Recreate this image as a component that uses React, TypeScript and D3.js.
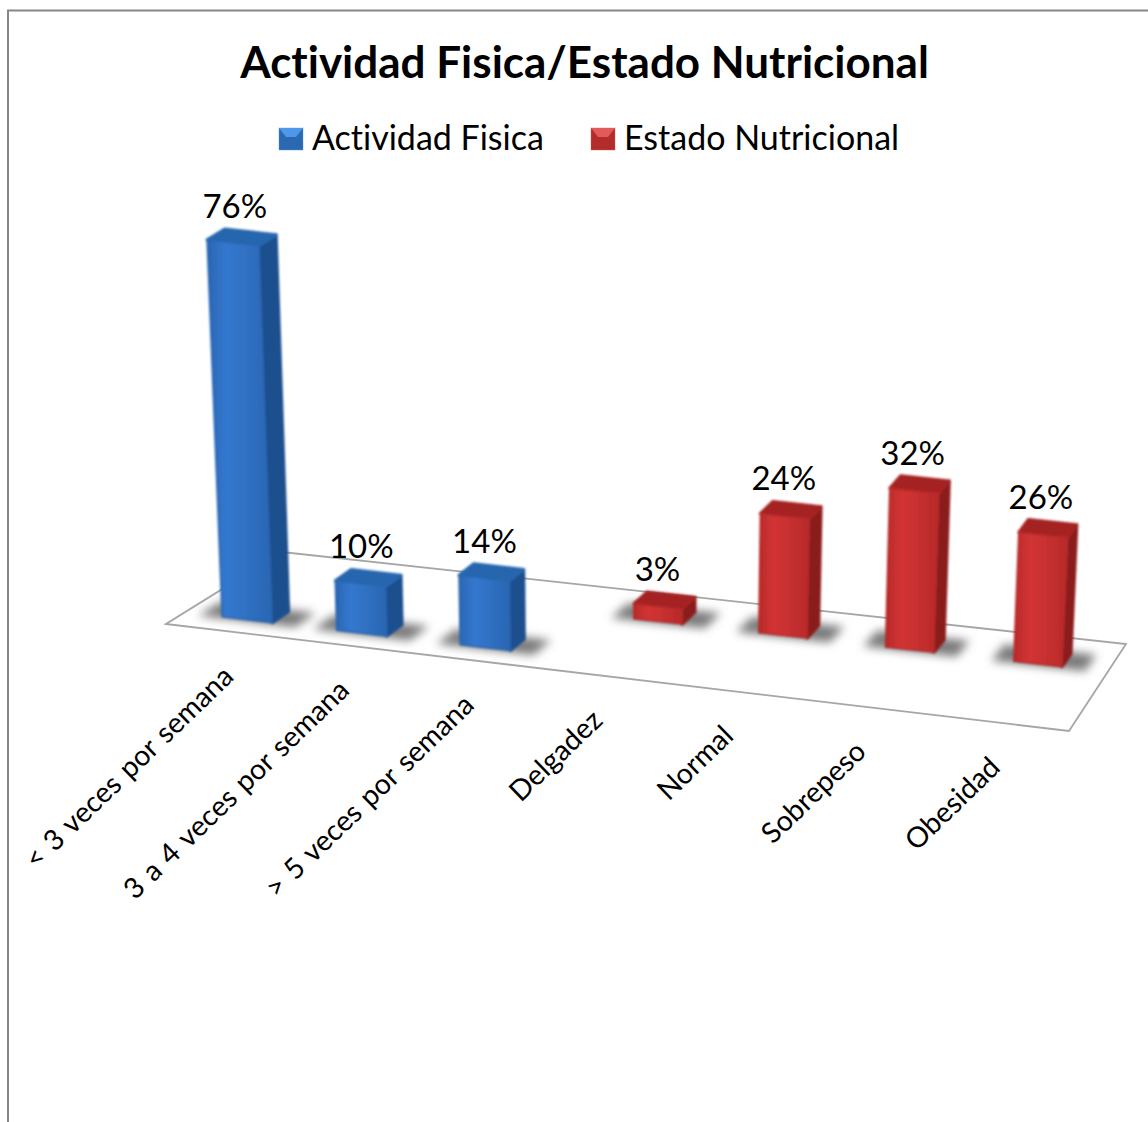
import React from "react";
import * as d3 from "d3";

const titleText = "Actividad Fisica/Estado Nutricional";
const seriesNames = ["Actividad Fisica", "Estado Nutricional"];
const categories = ["< 3 veces por semana", "3 a 4 veces por semana", "> 5 veces por semana", "Delgadez", "Normal", "Sobrepeso", "Obesidad"];
const actividadFisica = [76, 10, 14, null, null, null, null];
const estadoNutricional = [null, null, null, 3, 24, 32, 26];

const FONT = "Lato, 'Open Sans', sans-serif";
const W = 1148, H = 1122;
const corners = { fl: [166, 624], fr: [1069, 731], bl: [282, 552], br: [1126, 644] };

const floor = (u: number, v: number): [number, number] => {
  const lx = corners.fl[0] + (corners.bl[0] - corners.fl[0]) * v;
  const ly = corners.fl[1] + (corners.bl[1] - corners.fl[1]) * v;
  const rx = corners.fr[0] + (corners.br[0] - corners.fr[0]) * v;
  const ry = corners.fr[1] + (corners.br[1] - corners.fr[1]) * v;
  return [lx + (rx - lx) * u, ly + (ry - ly) * u];
};
const lift = (p: [number, number], h: number): [number, number] => [p[0] + (p[0] - 620) * 0.0001 * h, p[1] - h];

const uScale = d3.scalePow().exponent(1.055).domain([0, 6]).range([0.042, 0.891]);
const rowScale = d3.scalePoint().domain(seriesNames).range([0.16, 0.68]);
const hScale = d3.scaleLinear().domain([0, 76]).range([0, 377]);
const barU = 0.056;
const barV = 0.15;
const poly = (pts: [number, number][]) => d3.line()(pts) + "Z";

const palette = [
  { id: "blue", front0: "#3478cf", front1: "#2a66b2", side: "#1f4f8e", top: "#2866ae", hi: "#4f97e8", lo: "#2b68b2" },
  { id: "red", front0: "#d23434", front1: "#b82a2a", side: "#8a1e1e", top: "#a52424", hi: "#e25a5a", lo: "#b32c2c" },
];

const bars = [actividadFisica, estadoNutricional].flatMap((vals, s) =>
  vals.flatMap((value, i) => (value == null ? [] : [{ s, i, value, v0: rowScale(seriesNames[s]) as number }]))
);

function Bar({ s, i, value, v0 }: any) {
  const u0 = uScale(i), u1 = u0 + barU, v1 = v0 + barV, h = hScale(value);
  const a = floor(u0, v0), b = floor(u1, v0), c = floor(u1, v1), d = floor(u0, v1);
  const [ta, tb, tc, td] = [a, b, c, d].map((p) => lift(p, h));
  const col = palette[s];
  return (
    <g strokeLinejoin="round" strokeWidth={3}>
      <path d={poly([b, c, tc, tb])} fill={col.side} stroke={col.side} />
      <path d={poly([ta, tb, tc, td])} fill={col.top} stroke={col.top} />
      <path d={poly([a, b, tb, ta])} fill={`url(#front-${col.id})`} stroke={col.front1} strokeWidth={1.5} />
    </g>
  );
}

function Shadow({ i, v0 }: any) {
  const u0 = uScale(i) - 0.024, u1 = uScale(i) + barU + 0.028;
  const v1 = v0 + barV + 0.02;
  return <path d={poly([floor(u0, v0 - 0.02), floor(u1, v0 - 0.02), floor(u1, v1), floor(u0, v1)])} fill="#7a7a7a" />;
}

export default function App() {
  const floorPts: [number, number][] = [floor(0, 0), floor(1, 0), floor(1, 1), floor(0, 1)];
  return (
    <svg width={W} height={H} viewBox={`0 0 ${W} ${H}`} style={{ position: "fixed", left: 0, top: 0, background: "#fff", fontVariantLigatures: "none" }} fontFamily={FONT}>
      <defs>
        {palette.map((c) => (
          <linearGradient key={c.id} id={`front-${c.id}`} x1="0" x2="1" y1="0" y2="0">
            <stop offset="0" stopColor={c.front1} />
            <stop offset="0.3" stopColor={c.front0} />
            <stop offset="1" stopColor={c.front1} />
          </linearGradient>
        ))}
        <filter id="soft" x="-20%" y="-20%" width="140%" height="140%"><feGaussianBlur stdDeviation="0.8" /></filter>
        <filter id="shadow" x="-40%" y="-60%" width="180%" height="220%"><feGaussianBlur stdDeviation="5" /></filter>
      </defs>

      <path d={`M8,${H}V10.5H${W}`} fill="none" stroke="#868686" strokeWidth={2} />

      <text x={584.5} y={78} textAnchor="middle" fontSize={44} fontWeight={700} fill="#000">{titleText}</text>

      <g>
        {seriesNames.map((name, s) => {
          const x = s === 0 ? 279 : 591;
          const col = palette[s];
          return (
            <g key={name}>
              <rect x={x} y={128} width={24} height={22} fill={col.lo} stroke={col.hi} strokeOpacity={0.4} />
              <path d={poly([[x, 128], [x + 24, 128], [x + 17, 137], [x + 7, 137]])} fill={col.hi} />
              <text x={x + 33} y={150} fontSize={34} fill="#000">{name}</text>
            </g>
          );
        })}
      </g>

      <path d={poly(floorPts)} fill="#fff" stroke="#a6a6a6" strokeWidth={1.8} />

      <g filter="url(#shadow)">{bars.map((b) => <Shadow key={b.i} {...b} />)}</g>
      <g filter="url(#soft)">{bars.map((b) => <Bar key={b.i} {...b} />)}</g>

      <g fontSize={33} textAnchor="middle" fill="#000">
        {bars.map((b) => {
          const h = hScale(b.value);
          const c = lift(floor(uScale(b.i) + barU / 2, b.v0 + barV / 2), h);
          const back = lift(floor(uScale(b.i), b.v0 + barV), h);
          return <text key={b.i} x={c[0] - 7} y={back[1] - 11}>{b.value}%</text>;
        })}
      </g>

      <g fontSize={28.5} textAnchor="end" fill="#000" style={{ wordSpacing: "2px" }}>
        {categories.map((c, i) => {
          const p = floor(uScale(i) + barU / 2, 0);
          return <text key={c} transform={`translate(${p[0] + 6},${p[1] + 47}) rotate(-44)`}>{c}</text>;
        })}
      </g>
    </svg>
  );
}
